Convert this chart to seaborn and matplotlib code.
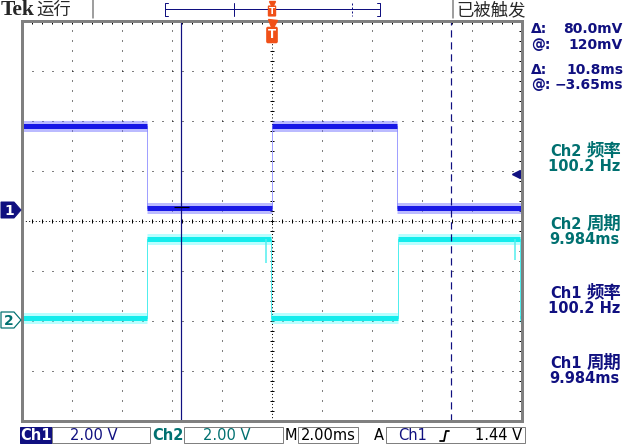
import numpy as np
import pandas as pd
import matplotlib
matplotlib.use("Agg")
import matplotlib.pyplot as plt
from matplotlib.patches import Polygon, Rectangle
import seaborn as sns

# --- waveform readings (time in ms, level in V) ---
ch1_edges = [-5.0, 0.0, 5.0, 9.96]
ch1_levels = [3.38, 0.10, 3.38, 0.10, 3.38]
ch2_edges = [-5.0, -0.04, 5.04, 9.92]
ch2_levels = [0.08, 3.24, 0.08, 3.24, 0.08]
ch2_glitch_t = [-0.24, 9.72]
ch2_glitch_v = [2.3, 2.4]

cursor_t = [-3.65, 7.15]
cursor_v = 0.12
trig_level = 1.44

volts_per_div = 2.0
ch1_pos = 0.22   # ground marker, in divisions
ch2_pos = -1.98

readout_keys = ["Δ:", "@:", "Δ:", "@:"]
readout_vals = ["80.0mV", "120mV", "10.8ms", "−3.65ms"]
meas_labels = ["Ch2 频率", "Ch2 周期", "Ch1 频率", "Ch1 周期"]
meas_values = ["100.2 Hz", "9.984ms", "100.2 Hz", "9.984ms"]

NAVY = "#101080"
TEAL = "#007070"
ORANGE = "#f05018"
GRAY = "#808080"
PX = 0.72  # one pixel in points at dpi 100

sns.set_style("white")
plt.rcParams['font.family'] = ['DejaVu Sans', 'Noto Sans CJK SC']

W, H = 624, 444
fig = plt.figure(figsize=(W / 100, H / 100), dpi=100)

# graticule: 10 x 8 divisions, 50 px each
ax = fig.add_axes([22 / W, 1 - 421 / H, 500 / W, 400 / H])
ax.set_xlim(-10, 10)
ax.set_ylim(-4, 4)

for xv in range(-8, 9, 2):
    if xv != 0:
        ax.axvline(xv, color='black', lw=PX, ls=(0, (1, 9)))
for yv in range(-3, 4):
    if yv != 0:
        ax.axhline(yv, color='black', lw=PX, ls=(0, (1, 9)))
ax.axhline(0, color='black', lw=PX, ls=(0, (1, 2.33)))
ax.axvline(0, color='black', lw=PX, ls=(0, (1, 2.33)))
for yv in [3.98, -3.98]:
    ax.axhline(yv, color='black', lw=PX, ls=(0, (1, 2.33)))
xt = np.arange(-10, 10.01, 0.4)
yt = np.arange(-4, 4.01, 0.2)
ax.plot(xt, np.zeros_like(xt), ls='none', marker='|', ms=5 * PX, mew=PX, color='black')
ax.plot(np.zeros_like(yt), yt, ls='none', marker='_', ms=5 * PX, mew=PX, color='black')
ax.set_xticks(xt)
ax.set_yticks(yt)
ax.tick_params(direction='in', length=3 * PX, width=PX, color='black', top=True, right=True,
               labelbottom=False, labelleft=False)
for s in ax.spines.values():
    s.set_color(GRAY)
    s.set_linewidth(3 * PX)


def steps(edges, levels, pos):
    t, v = [-10.0], [levels[0]]
    for e, a, b in zip(edges, levels[:-1], levels[1:]):
        t += [e, e]
        v += [a, b]
    t.append(10.0)
    v.append(levels[-1])
    df = pd.DataFrame({'t': t, 'v': v})
    df['div'] = pos + df['v'] / volts_per_div
    return df


traces = [
    (ch1_edges, ch1_levels, ch1_pos, "#1818e6", "#6a6aff", "#a0a0ff"),
    (ch2_edges, ch2_levels, ch2_pos, "#14ecec", "#60ffff", "#50eeee"),
]
for edges, levels, pos, core, halo, edge in traces:
    df = steps(edges, levels, pos)
    sns.lineplot(data=df, x='t', y='div', sort=False, estimator=None, color=edge,
                 lw=PX, legend=False, ax=ax)
    starts = [-10.0] + edges
    ends = edges + [10.0]
    lv = pos + np.array(levels) / volts_per_div
    ax.hlines(lv, starts, ends, color=halo, lw=11 * PX, alpha=0.45)
    ax.hlines(lv, starts, ends, color=core, lw=5 * PX)

ch2_high = ch2_pos + max(ch2_levels) / volts_per_div
ax.vlines(ch2_glitch_t, ch2_high, ch2_pos + np.array(ch2_glitch_v) / volts_per_div,
          color="#50eeee", lw=1.5 * PX)

ax.axvline(cursor_t[0], color=NAVY, lw=1.2 * PX)
ax.axvline(cursor_t[1], color=NAVY, lw=1.2 * PX, ls=(0, (6, 4)))
ax.plot(cursor_t[0], ch1_pos + cursor_v / volts_per_div, marker='_', ms=15 * PX,
        mew=1.2 * PX, color='black')
ax.plot(9.76, ch1_pos + trig_level / volts_per_div, marker='<', ms=8 * PX, color=NAVY,
        clip_on=False)
ax.set_xlabel('')
ax.set_ylabel('')

# overlay in pixel coordinates for the scope's UI
ui = fig.add_axes([0, 0, 1, 1], zorder=10)
ui.set_xlim(0, W)
ui.set_ylim(H, 0)
ui.axis('off')
ui.patch.set_alpha(0)

# top bar
ui.text(1, 10, "Tek", fontsize=15.5, fontweight='bold', family='Liberation Serif', va='center')
ui.text(36, 10, "运行", fontsize=12.5, family='Noto Sans CJK SC', va='center')
ui.plot([93, 93], [0, 18], color=GRAY, lw=1.5 * PX)
ui.plot([453, 453], [0, 18], color=GRAY, lw=1.5 * PX)
ui.text(456, 10, "已被触发", fontsize=12.5, family='Noto Sans CJK SC', va='center')
ui.plot([168, 165, 165, 168], [3, 3, 16, 16], color=NAVY, lw=PX)
ui.plot([377, 380, 380, 377], [3, 3, 16, 16], color=NAVY, lw=PX)
ui.plot([165, 380], [9.5, 9.5], color=NAVY, lw=PX)
ui.plot([234, 234], [3, 16], color=NAVY, lw=PX)
ui.plot([352, 352], [3, 16], color=NAVY, lw=PX, ls=(0, (2, 2)))
ui.plot(272, 4, marker='v', ms=6 * PX, color=ORANGE)
ui.text(272, 11, "T", color='white', fontsize=6.5, fontweight='bold', ha='center', va='center',
        bbox=dict(boxstyle='round,pad=0.12', fc=ORANGE, ec='none'))

# trigger position marker under the top border
ui.plot(272, 24, marker='v', ms=9 * PX, color=ORANGE)
ui.text(272, 35, "T", color='white', fontsize=8.5, fontweight='bold', ha='center', va='center',
        bbox=dict(boxstyle='round,pad=0.15', fc=ORANGE, ec='none'))

# channel ground markers
ui.add_patch(Polygon([(1, 202), (14, 202), (21, 210), (14, 218), (1, 218)], closed=True,
                     fc=NAVY, ec=NAVY, lw=PX))
ui.text(9, 210.5, "1", color='white', fontsize=10, fontweight='bold', ha='center', va='center')
ui.add_patch(Polygon([(1, 312), (14, 312), (21, 320), (14, 328), (1, 328)], closed=True,
                     fc='white', ec=TEAL, lw=1.2 * PX))
ui.text(9, 320.5, "2", color=TEAL, fontsize=10, fontweight='bold', ha='center', va='center')

# cursor readouts
ro_y = [29, 45, 70, 85]
for k, v, y in zip(readout_keys, readout_vals, ro_y):
    ui.text(531, y, k, color=NAVY, fontsize=10, fontweight='bold', va='center')
    ui.text(623, y, v, color=NAVY, fontsize=10, fontweight='bold', va='center', ha='right')

# measurements
meas_y = [151, 224, 293, 363]
for lab, val, y in zip(meas_labels, meas_values, meas_y):
    c = TEAL if lab.startswith("Ch2") else NAVY
    ch, name = lab.split(" ")
    ui.text(582, y, ch, color=c, fontsize=10.5, fontweight='bold', ha='right', va='center')
    ui.text(621, y, name, color=c, fontsize=12.5, fontweight='bold', ha='right', va='center',
            family='Noto Sans CJK SC')
    ui.text(620, y + 15, val, color=c, fontsize=10.5, fontweight='bold', ha='right',
            va='center')

# status bar
sy = 435.5
ui.add_patch(Rectangle((20, 427), 32, 16, fc=NAVY, ec=NAVY, lw=PX))
ui.text(36, sy, "Ch1", color='white', fontsize=10.5, fontweight='bold', ha='center', va='center')
for x0, x1 in [(52, 150), (184, 283), (298, 358), (386, 525)]:
    ui.add_patch(Rectangle((x0, 427), x1 - x0, 16, fill=False, ec=GRAY, lw=PX))
ui.text(94, sy, "2.00 V", color=NAVY, fontsize=10.5, ha='center', va='center')
ui.text(168, sy, "Ch2", color=TEAL, fontsize=10.5, fontweight='bold', ha='center', va='center')
ui.text(227, sy, "2.00 V", color=TEAL, fontsize=10.5, ha='center', va='center')
ui.text(291, sy, "M", color='black', fontsize=10.5, ha='center', va='center')
ui.text(328, sy, "2.00ms", color='black', fontsize=10.5, ha='center', va='center')
ui.text(379, sy, "A", color='black', fontsize=10.5, ha='center', va='center')
ui.text(413, sy, "Ch1", color=NAVY, fontsize=10.5, ha='center', va='center')
ui.plot([440, 444, 446, 449], [441, 441, 431, 431], color='black', lw=1.8 * PX)
ui.text(499, sy, "1.44 V", color='black', fontsize=10.5, ha='center', va='center')

fig.savefig("out.png", dpi=100)
